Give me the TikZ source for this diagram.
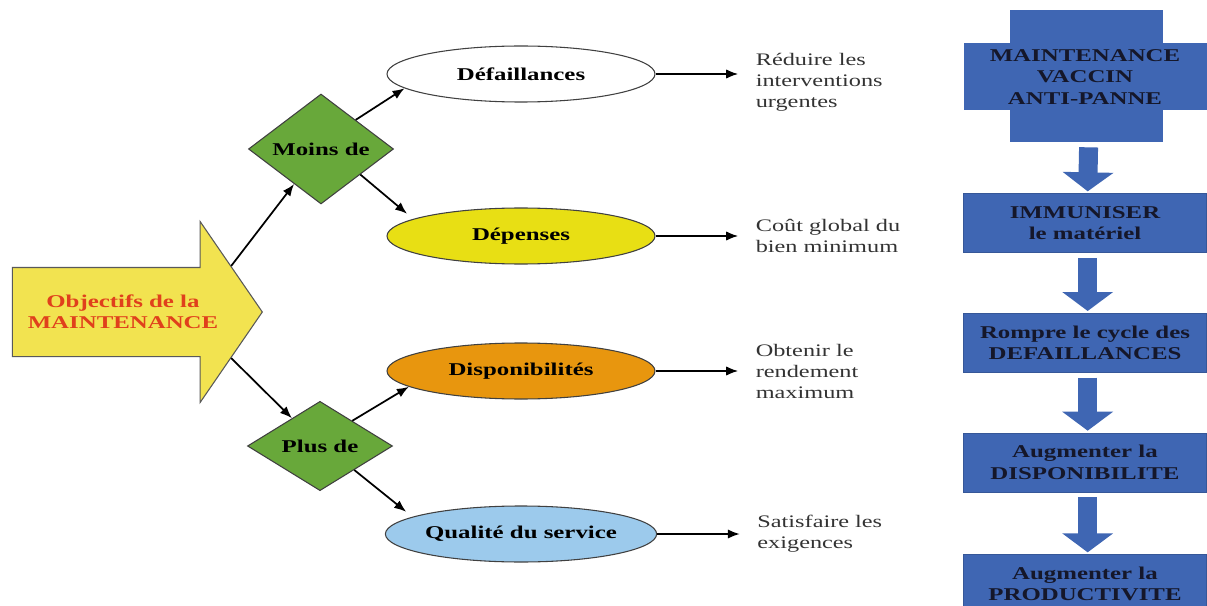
\documentclass[tikz,border=0pt]{standalone}
\usepackage{fontspec}
\setmainfont{Liberation Serif}[FakeStretch=1.38]
\usepackage{xcolor}
\usetikzlibrary{arrows.meta, positioning, calc}
\usetikzlibrary{shapes.geometric, shapes.arrows}

\definecolor{objyellow}{HTML}{F2E350}
\definecolor{objred}{HTML}{E0401C}
\definecolor{choicegreen}{HTML}{68A83A}
\definecolor{costyellow}{HTML}{E8DF14}
\definecolor{availorange}{HTML}{E8960E}
\definecolor{qualblue}{HTML}{9CCAEC}
\definecolor{stepblue}{HTML}{3F66B3}
\definecolor{steptext}{HTML}{15172A}

\begin{document}
\begin{tikzpicture}[
    x=0.75pt, y=-0.75pt,
    node distance=45pt and 75pt,
    % === STYLES ===
    objective/.style={
        single arrow,
        draw=gray!70!black,
        fill=objyellow,
        line width=0.8pt,
        minimum height=187.5pt,
        minimum width=135pt,
        single arrow head extend=34.5pt,
        single arrow tip angle=111,
        inner xsep=0pt,
        inner ysep=33pt
    },
    objlabel/.style={
        text=objred,
        align=center,
        font=\fontsize{13.5}{16}\selectfont\bfseries
    },
    choice/.style={
        diamond,
        draw=black!75,
        fill=choicegreen,
        line width=0.8pt,
        minimum width=108.75pt,
        minimum height=66pt,
        inner sep=0pt,
        font=\fontsize{13.5}{16}\selectfont\bfseries
    },
    target/.style={
        ellipse,
        draw=black!75,
        fill=#1,
        line width=0.8pt,
        minimum width=201pt,
        minimum height=42pt,
        inner sep=0pt,
        font=\fontsize{13.5}{16}\selectfont\bfseries
    },
    target/.default=white,
    result/.style={
        inner sep=0pt,
        align=left,
        text=black!80,
        font=\fontsize{13.2}{15.75}\selectfont
    },
    stepbox/.style={
        rectangle,
        draw=stepblue!85!black,
        fill=stepblue,
        line width=0.5pt,
        minimum width=182.25pt,
        minimum height=44.25pt,
        inner sep=0pt,
        align=center,
        text=steptext,
        font=\fontsize{13.5}{16}\selectfont\bfseries
    },
    arrow/.style={
        -{Latex[length=9pt, width=7pt]},
        line width=1.3pt,
        color=black
    },
    downarrow/.style={
        -{Triangle[width=37.5pt, length=14.25pt]},
        line width=14.25pt,
        color=stepblue,
        shorten <=3.75pt,
        shorten >=1.5pt
    }
]
\useasboundingbox (0,0) rectangle (1207,606);

% === OBJECTIVE ===
\node[objective] (obj) at (122,312) {};
\node[objlabel] (objtext) at (123,312) {Objectifs de la\\MAINTENANCE};

% === CHOICES ===
\node[choice] (moins) at (321,149) {Moins de};
\node[choice] (plus) at (320,446) {Plus de};

% === TARGETS ===
\node[target] (defail) at (521,74) {Défaillances};
\node[target=costyellow] (depense) at (521,236) {Dépenses};
\node[target=availorange] (dispo) at (521,371) {Disponibilités};
\node[target=qualblue] (qualite) at (521,534) {Qualité du service};

% === RESULTS ===
\node[result, right=75pt of defail, yshift=-6pt] (reduire) {Réduire les\\interventions\\urgentes};
\node[result, right=75pt of depense] (cout) {Coût global du\\bien minimum};
\node[result, right=75pt of dispo] (obtenir) {Obtenir le\\rendement\\maximum};
\node[result, right=75pt of qualite] (satisf) {Satisfaire les\\exigences};

% === RIGHT COLUMN ===
\node[stepbox, draw=none, minimum width=114.75pt, minimum height=99pt] (vaccinbg) at (1086,76) {};
\node[stepbox, draw=none, minimum height=50.25pt] (vaccin) at (1085,77) {MAINTENANCE\\VACCIN\\ANTI-PANNE};
\node[stepbox, below=38.25pt of vaccinbg.south -| vaccin, anchor=north] (immun) {IMMUNISER\\le matériel};
\node[stepbox, below=45pt of immun] (rompre) {Rompre le cycle des\\DEFAILLANCES};
\node[stepbox, below=45pt of rompre] (augdispo) {Augmenter la\\DISPONIBILITE};
\node[stepbox, below=46.5pt of augdispo] (augprod) {Augmenter la\\PRODUCTIVITE};

% === CONNECTIONS ===
\draw[arrow] ($(obj.tip)!0.5!(obj.before tip)$) -- (moins);
\draw[arrow] ($(obj.tip)!0.5!(obj.after tip)$) -- (plus);

\draw[arrow] (moins.40) -- (defail.187);
\draw[arrow, shorten >=6pt] (moins.-33) -- (depense.171);
\draw[arrow] (plus.38) -- (dispo.188);
\draw[arrow, shorten >=6pt] (plus.-35) -- (qualite.171);

\draw[arrow, shorten >=13pt] (defail.east) -- (defail.east -| reduire.west);
\draw[arrow, shorten >=13pt] (depense.east) -- (depense.east -| cout.west);
\draw[arrow, shorten >=13pt] (dispo.east) -- (dispo.east -| obtenir.west);
\draw[arrow, shorten >=13pt] (qualite.east) -- (qualite.east -| satisf.west);

\draw[downarrow] ([xshift=2pt]vaccinbg.south) -- ([xshift=2pt]immun.north);
\draw[downarrow] ([xshift=2pt]immun.south) -- ([xshift=2pt]rompre.north);
\draw[downarrow] ([xshift=2pt]rompre.south) -- ([xshift=2pt]augdispo.north);
\draw[downarrow] ([xshift=2pt]augdispo.south) -- ([xshift=2pt]augprod.north);

\end{tikzpicture}
\end{document}
